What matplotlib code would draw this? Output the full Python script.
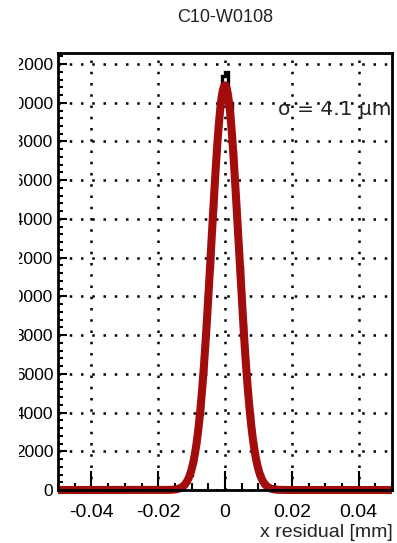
import matplotlib
matplotlib.use("Agg")
import matplotlib.pyplot as plt
import numpy as np
from matplotlib.ticker import MultipleLocator
from matplotlib.transforms import Bbox, TransformedBbox

# residual histogram (bin width 0.001 mm), counts
bin_edges = [round(-0.016 + 0.001 * i, 4) for i in range(33)]
counts = [17, 40, 95, 200, 410, 790, 1430, 2450, 3940, 5980, 8540, 11500,
          14590, 17440, 19900, 21400, 21600, 20000, 17440, 14590, 11500, 8540,
          5980, 3940, 2450, 1430, 790, 410, 200, 95, 40, 17]

# gaussian fit parameters
fit_amp = 20900.0
fit_mean = 0.0
fit_sigma = 0.0041  # mm

x_ticks = [-0.04, -0.02, 0.0, 0.02, 0.04]
x_tick_labels = ["-0.04", "-0.02", "0", "0.02", "0.04"]
y_ticks = [0, 2000, 4000, 6000, 8000, 10000, 12000, 14000, 16000, 18000, 20000, 22000]
y_tick_labels = [str(v) for v in y_ticks]

title = "C10-W0108"
x_title = "x residual [mm]"
sigma_label = "σ = 4.1 µm"

W, H = 397, 543
fig = plt.figure(figsize=(W / 100, H / 100), dpi=100)
fig.patch.set_facecolor("white")
ax = fig.add_axes([58 / W, 1 - 490 / H, 334 / W, 437 / H])

ax.set_xlim(-0.05, 0.05)
ax.set_ylim(0, 22570)

ax.grid(True, color="black", linestyle=(0, (1, 3.5)), linewidth=1.8)
ax.set_axisbelow(True)

ax.stairs(counts, bin_edges, color="black", linewidth=2.4, zorder=3)

xs = np.linspace(-0.05, 0.05, 800)
ys = fit_amp * np.exp(-0.5 * ((xs - fit_mean) / fit_sigma) ** 2)
ax.plot(xs, ys, color="#a30c0c", linewidth=5.8, solid_capstyle="butt",
        clip_on=False, zorder=4)

ax.set_xticks(x_ticks, labels=x_tick_labels)
ax.set_yticks(y_ticks, labels=y_tick_labels)
ax.xaxis.set_minor_locator(MultipleLocator(0.005))
ax.yaxis.set_minor_locator(MultipleLocator(400))

ax.tick_params(axis="x", which="major", direction="in", length=14, width=1.5,
               pad=10, labelsize=14, top=False)
ax.tick_params(axis="x", which="minor", direction="in", length=5, width=1.5, top=False)
ax.tick_params(axis="y", which="major", direction="in", length=6.5, width=1.5,
               pad=3.5, labelsize=12.5, right=False)
ax.tick_params(axis="y", which="minor", direction="in", length=3.6, width=1.5, right=False)

for lbl in ax.get_xticklabels() + ax.get_yticklabels():
    lbl.set_fontfamily("Liberation Sans")

# the original canvas cuts the y labels on the left
clip = TransformedBbox(Bbox.from_extents(19 / W, 0, 1, 1), fig.transFigure)
for lbl in ax.get_yticklabels():
    lbl.set_clip_box(clip)
    lbl.set_clip_on(True)

for sp in ax.spines.values():
    sp.set_linewidth(2.0)
    sp.set_color("black")
    sp.set_zorder(5)

ax.text(0.998, 0.8696, sigma_label, transform=ax.transAxes, ha="right", va="center",
        fontsize=14.5, family="DejaVu Sans", color="#222222", zorder=6)

fig.text(225 / W, 1 - 17 / H, title, ha="center", va="center",
         fontsize=13, family="Liberation Sans", color="#222222")
fig.text(393 / W, 1 - 532.5 / H, x_title, ha="right", va="center",
         fontsize=14, family="Liberation Sans", color="#222222")

fig.savefig("out.png", dpi=100, facecolor="white")
